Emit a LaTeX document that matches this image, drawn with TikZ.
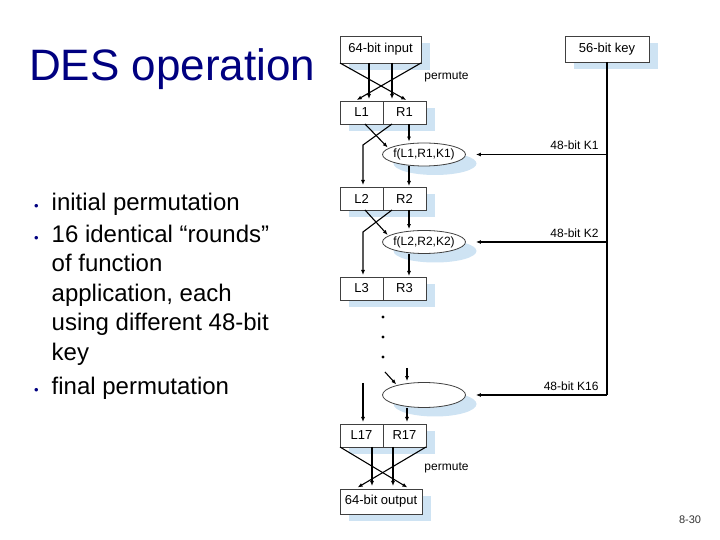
\documentclass[tikz,border=0pt]{standalone}
\usepackage{fontspec}
\setmainfont{Liberation Sans}
\usetikzlibrary{positioning,shapes.geometric,shadows,arrows.meta}
\definecolor{titleblue}{RGB}{0,0,128}
\definecolor{shadeblue}{RGB}{206,227,243}
\newcommand{\dfont}{\fontsize{13}{15}\selectfont}
\newcommand{\lfont}{\fontsize{12}{14}\selectfont}
\newcommand{\bul}{\llap{\textcolor{titleblue}{\fontsize{13}{13}\selectfont\textbullet}\hspace{13pt}}}

\begin{document}
\begin{tikzpicture}[x=1pt,y=1pt,
    block/.style={draw=black!75, line width=0.8pt, fill=white, inner sep=0pt, outer sep=0pt, font=\dfont,
        general shadow={fill=shadeblue, shadow xshift=9pt, shadow yshift=-7pt}},
    lrbox/.style={block, minimum width=43pt, minimum height=23pt},
    fbox/.style={ellipse, draw=black!75, line width=0.8pt, fill=white, inner sep=0pt, inner xsep=-3pt,
        minimum width=83pt, font=\lfont,
        general shadow={fill=shadeblue, shadow xshift=11pt, shadow yshift=-9pt}},
    arr/.style={-{Latex[length=5pt,width=4pt]}, line width=1.1pt, shorten >=1pt},
    keylabel/.style={anchor=base east, inner sep=0pt, xshift=-8pt, yshift=4.5pt, font=\lfont},
    bullets/.style={anchor=base west, inner sep=0pt, align=left, font=\fontsize{24}{29.5}\selectfont}]
    \useasboundingbox (0,0) rectangle (720,540);

    \node[anchor=base west, inner sep=0pt, text=titleblue, font=\fontsize{44}{50}\selectfont] (title) at (29,459) {DES operation};
    \node[bullets] (item1) at (51.5,329) {\bul initial permutation};
    \node[bullets] (item2) at (51.5,179.5) {\bul 16 identical “rounds”\\of function\\application, each\\using different 48-bit\\key};
    \node[bullets] (item3) at (51.5,145.5) {\bul final permutation};

    \node[block, minimum width=81pt, minimum height=27pt] (input) at (380.5,490.5) {64-bit input};
    \node[block, minimum width=84pt, minimum height=26pt] (key) at (607,491) {56-bit key};
    \node[lrbox] (L1) at (361.5,427.5) {L1};
    \node[lrbox, right=0pt of L1] (R1) {R1};
    \node[fbox, minimum height=23pt] (f1) at (424,385.5) {f(L1,R1,K1)};
    \node[lrbox] (L2) at (361.5,341.5) {L2};
    \node[lrbox, right=0pt of L2] (R2) {R2};
    \node[fbox, minimum height=23pt] (f2) at (424,298) {f(L2,R2,K2)};
    \node[lrbox] (L3) at (361.5,251.5) {L3};
    \node[lrbox, right=0pt of L3] (R3) {R3};
    \node[fbox, minimum height=25pt] (f16) at (424,145) {};
    \node[lrbox] (L17) at (361.5,104.5) {L17};
    \node[lrbox, right=0pt of L17] (R17) {R17};
    \node[block, minimum width=82pt, minimum height=25pt] (output) at (381,38.5) {64-bit output};
    \node[font=\lfont] (perm1) at (446.5,463) {permute};
    \node[font=\lfont] (perm2) at (446.5,72) {permute};
    \node[font=\fontsize{11}{12}\selectfont, text=black!80] (page) at (690,20) {8-30};

    \coordinate (k1) at (607,385.5);
    \coordinate (k2) at (607,298);
    \coordinate (k16) at (607,145);
    \draw[line width=1.1pt] (key.south) -- (k16);
    \draw[arr, shorten >=10pt] (k1) -- (f1) node[pos=0, keylabel] {48-bit K1};
    \draw[arr, shorten >=10pt] (k2) -- (f2) node[pos=0, keylabel] {48-bit K2};
    \draw[arr, shorten >=10pt] (k16) -- (f16) node[pos=0, keylabel] {48-bit K16};

    \draw[arr, shorten >=2pt] ([xshift=-11.5pt]input.south) -- ([xshift=7.5pt]L1.north);
    \draw[arr, shorten >=2pt] ([xshift=11.5pt]input.south) -- ([xshift=-12.5pt]R1.north);
    \draw[arr, shorten >=2pt] (input.south west) -- ([xshift=3.5pt]R1.north);
    \draw[arr, shorten >=2pt] (input.south east) -- ([xshift=-6.5pt]L1.north);

    \coordinate (b1) at (363,395);
    \draw[arr] ([xshift=4.5pt]R1.south) -- ([xshift=-15pt]f1.north);
    \draw[arr] ([xshift=3.5pt]L1.south) -- (f1.170);
    \draw[arr, shorten >=2pt] ([xshift=-12.5pt]R1.south) -- (b1) -- ([xshift=1.5pt]L2.north);
    \draw[arr] ([xshift=-15pt]f1.south) -- ([xshift=4.5pt]R2.north);

    \coordinate (b2) at (363,308);
    \draw[arr] ([xshift=4.5pt]R2.south) -- ([xshift=-15pt]f2.north);
    \draw[arr] ([xshift=3.5pt]L2.south) -- (f2.170);
    \draw[arr, shorten >=2pt] ([xshift=-12.5pt]R2.south) -- (b2) -- ([xshift=1.5pt]L3.north);
    \draw[arr] ([xshift=-15pt]f2.south) -- ([xshift=4.5pt]R3.north);

    \foreach \y in {223,203,183}
        \fill (383,\y) circle[radius=1.6pt];
    \coordinate (d1) at (385,168);
    \coordinate (d2) at (407,172);
    \coordinate (b16) at (363,157);
    \draw[arr] (d1) -- (f16.160);
    \draw[arr] (d2) -- ([xshift=-17pt]f16.north);
    \draw[arr, shorten >=2pt] (b16) -- ([xshift=1.5pt]L17.north);
    \draw[arr, shorten >=2pt] ([xshift=-17pt]f16.south) -- ([xshift=2.5pt]R17.north);

    \draw[arr, shorten >=3pt] ([xshift=10.5pt]L17.south) -- ([xshift=-9pt]output.north);
    \draw[arr, shorten >=3pt] ([xshift=-11.5pt]R17.south) -- ([xshift=12pt]output.north);
    \draw[arr, shorten >=3pt] (L17.south west) -- ([xshift=29pt]output.north);
    \draw[arr, shorten >=3pt] (R17.south east) -- ([xshift=-26pt]output.north);
\end{tikzpicture}
\end{document}
